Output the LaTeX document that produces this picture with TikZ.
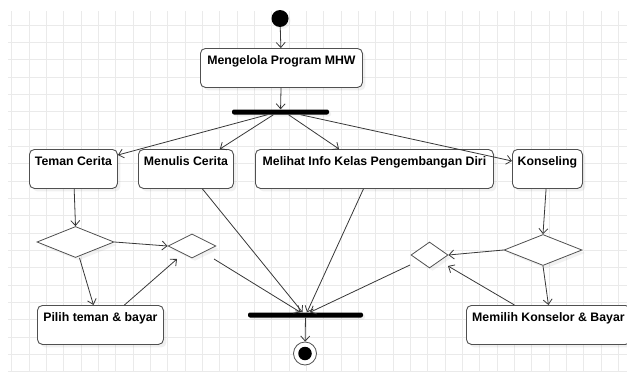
\documentclass[tikz,border=0pt]{standalone}
\usepackage{fontspec}
\setmainfont{Liberation Sans}
\usetikzlibrary{positioning,arrows.meta,shapes.geometric,shadows}
\definecolor{ink}{RGB}{55,55,55}
\definecolor{edge}{RGB}{80,80,80}
\definecolor{gridc}{RGB}{234,234,234}

\begin{document}
\begin{tikzpicture}[x=1pt, y=-1pt,
  font=\bfseries\fontsize{12.3}{14}\selectfont,
  >={Straight Barb[length=5pt,width=9pt]},
  act/.style={rounded corners=5pt, draw=edge, line width=0.9pt, fill=white, anchor=north west,
    align=center, inner xsep=2pt, inner ysep=4pt, text height=12pt, text depth=19pt,
    drop shadow={opacity=0.12, shadow xshift=3pt, shadow yshift=-3pt}},
  dec/.style={diamond, draw=edge, line width=0.8pt, fill=white, inner sep=0pt,
    drop shadow={opacity=0.10, shadow xshift=3pt, shadow yshift=-3pt}},
  bar/.style={rectangle, fill=black, inner sep=0pt, minimum height=5pt, rounded corners=2pt,
    drop shadow={opacity=0.10, shadow xshift=2pt, shadow yshift=-2pt}},
  flow/.style={->, draw=ink, line width=0.8pt},
]
\useasboundingbox (0,0) rectangle (627,372);

% ---- grid ----
\foreach \i in {0,...,35}
  \draw[gridc, line width=0.8pt] ({11.7+17.33*\i},11) -- ({11.7+17.33*\i},372);
\foreach \j in {0,...,20}
  \draw[gridc, line width=0.8pt] (8,{25+17.33*\j}) -- (627,{25+17.33*\j});

% ---- start ----
\node[circle, fill=black, inner sep=0pt, minimum size=17pt,
      drop shadow={opacity=0.10, shadow xshift=2pt, shadow yshift=-2pt}] (start) at (280,18.5) {};

% ---- main activity and fork ----
\node[act, minimum width=162pt] (kelola) at (200,48) {Mengelola Program MHW};
\node[bar, minimum width=97pt] (fork) at (280.5,112) {};

% ---- the four branches ----
\node[act, minimum width=88pt]  (teman)   at (29,149)  {Teman Cerita};
\node[act, minimum width=95pt]  (menulis) at (138,149) {Menulis Cerita};
\node[act, minimum width=238pt] (melihat) at (255,149) {Melihat Info Kelas Pengembangan Diri};
\node[act, minimum width=70pt]  (konsel)  at (512,149) {Konseling};

% ---- decisions ----
\node[dec, minimum width=77pt, minimum height=31pt] (dA) at (75.5,242) {};
\node[dec, minimum width=48pt, minimum height=24pt] (mA) at (192,246) {};
\node[dec, minimum width=78pt, minimum height=31pt] (dB) at (543,250) {};
\node[dec, minimum width=37pt, minimum height=26pt] (mB) at (429.5,255) {};

% ---- payment steps ----
\node[act, minimum width=126pt] (pilih)   at (37,305)  {Pilih teman \& bayar};
\node[act, minimum width=164pt] (memilih) at (466,305) {Memilih Konselor \& Bayar};

% ---- join and end ----
\node[bar, minimum width=115pt] (join) at (305.5,315) {};
\node[circle, draw=edge, line width=0.8pt, fill=white, inner sep=0pt, minimum size=23pt] (stop) at (305,353.5) {};
\node[circle, fill=black, inner sep=0pt, minimum size=13.5pt] (stopin) at (stop.center) {};

% ---- connectors ----
\draw[flow] (start) -- (kelola);
\draw[flow] (kelola) -- (fork);
\draw[flow] ([xshift=-13pt]fork.south) -- ([yshift=-6pt]teman.north east);
\draw[flow] ([xshift=-7pt]fork.south) -- ([xshift=-14pt]menulis.north east);
\draw[flow] ([xshift=8pt]fork.south) -- ([xshift=84pt]melihat.north west);
\draw[flow] ([xshift=20pt]fork.south) -- ([yshift=-12pt]konsel.north west);

\draw[flow] (teman) -- (dA.north);
\draw[flow] (dA.east) -- (mA.west);
\draw[flow] ([xshift=4pt]dA.south) -- ([xshift=-7pt]pilih.north);
\draw[flow] ([xshift=24pt]pilih.north) -- ([xshift=-15pt,yshift=-13pt]mA.center);

\draw[flow] (konsel) -- (dB.north);
\draw[flow] (dB.west) -- (mB.east);
\draw[flow] (dB.south) -- (memilih.north);
\draw[flow] ([xshift=-34pt]memilih.north) -- ([xshift=18.5pt,yshift=-11pt]mB.center);

\draw[flow] ([xshift=22pt,yshift=-13pt]mA.center) -- ([xshift=-5pt]join.north);
\draw[flow] ([xshift=16.5pt]menulis.south) -- ([xshift=-3pt]join.north);
\draw[flow] ([xshift=-11pt]melihat.south) -- ([xshift=1.5pt]join.north);
\draw[flow] ([xshift=-19.5pt,yshift=-10pt]mB.center) -- ([xshift=4.5pt]join.north);
\draw[flow] (join) -- (stop);

\end{tikzpicture}
\end{document}
